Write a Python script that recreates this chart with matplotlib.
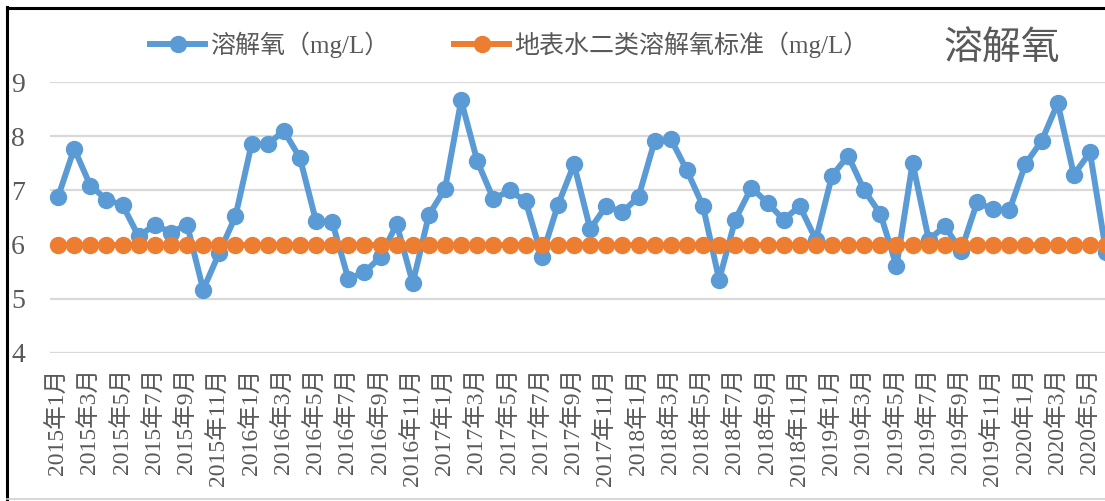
import matplotlib
matplotlib.use("Agg")
import matplotlib.pyplot as plt
from matplotlib.lines import Line2D

plt.rcParams['font.family'] = ['Liberation Serif', 'Noto Sans CJK SC', 'DejaVu Sans']

# Monthly categories, Jan 2015 onwards
years = [2015, 2016, 2017, 2018, 2019, 2020]
months = [f"{y}年{m}月" for y in years for m in range(1, 13)][:66]

# Dissolved oxygen (mg/L)
dissolved_oxygen = [
    6.88, 7.77, 7.09, 6.83, 6.73, 6.15, 6.37, 6.22, 6.37, 5.17,
    5.85, 6.52, 7.85, 7.85, 8.10, 7.60, 6.43, 6.42, 5.37, 5.49,
    5.77, 6.38, 5.29, 6.55, 7.03, 8.66, 7.54, 6.84, 7.00, 6.80,
    5.78, 6.73, 7.48, 6.29, 6.71, 6.60, 6.88, 7.91, 7.95, 7.37,
    6.71, 5.35, 6.46, 7.05, 6.77, 6.46, 6.71, 6.09, 7.27, 7.64,
    7.00, 6.57, 5.60, 7.51, 6.09, 6.34, 5.88, 6.78, 6.65, 6.63,
    7.49, 7.91, 8.61, 7.29, 7.70, 5.86,
]
# Class II surface water standard (mg/L)
standard = [6] * len(months)

yticks = [4, 5, 6, 7, 8, 9]

BLUE = "#5B9BD5"
ORANGE = "#ED7D31"
TEXT = "#595959"
GRID = "#D9D9D9"

W, H = 1105, 501
fig = plt.figure(figsize=(W / 100, H / 100), dpi=100)
fig.patch.set_facecolor("white")

ax = fig.add_axes([50 / W, (H - 353) / H, 1 - 50 / W, (353 - 82) / H])
x = list(range(len(months)))

ax.plot(x, dissolved_oxygen, color=BLUE, lw=4.3, marker="o", ms=11.5,
        mfc=BLUE, mec=BLUE, solid_joinstyle="round", zorder=3,
        clip_on=False, label="溶解氧（mg/L）")
ax.plot(x, standard, color=ORANGE, lw=4.3, marker="o", ms=11.5,
        mfc=ORANGE, mec=ORANGE, zorder=4, clip_on=False,
        label="地表水二类溶解氧标准（mg/L）")

ax.set_xlim(-0.5, (W - 58.3) / 16.12)
ax.set_ylim(4, 9)
ax.set_yticks(yticks)
ax.set_yticklabels([str(v) for v in yticks])
ax.set_xticks(x[::2])
ax.set_xticklabels(months[::2], rotation=90, ha="center", va="top")

ax.grid(axis="y", color=GRID, lw=1.6, zorder=0)
ax.set_axisbelow(True)
for s in ax.spines.values():
    s.set_visible(False)
ax.tick_params(axis="both", length=0, colors=TEXT)
ax.tick_params(axis="y", labelsize=20, pad=18)
ax.tick_params(axis="x", labelsize=17, pad=11)

leg = fig.legend(loc="center left", bbox_to_anchor=(150 / W, 1 - 45 / H),
                 ncol=2, frameon=False, fontsize=18, handlelength=2.2,
                 handletextpad=0.2, columnspacing=2.6, borderpad=0,
                 borderaxespad=0)
for t in leg.get_texts():
    t.set_color(TEXT)

fig.text(1002 / W, 1 - 50 / H, "溶解氧", fontsize=28, color=TEXT,
         ha="center", va="center")

# Chart frame
fig.add_artist(Line2D([6.5 / W, 6.5 / W], [0, 1 - 6.5 / H], color="black",
                      lw=2.2, transform=fig.transFigure))
fig.add_artist(Line2D([6.5 / W, 1], [1 - 7.5 / H, 1 - 7.5 / H], color="black",
                      lw=2.2, transform=fig.transFigure))
fig.add_artist(Line2D([6.5 / W, 1], [2 / H, 2 / H], color="#D0D0D0",
                      lw=1.2, transform=fig.transFigure))

fig.savefig("out.png", dpi=100)
